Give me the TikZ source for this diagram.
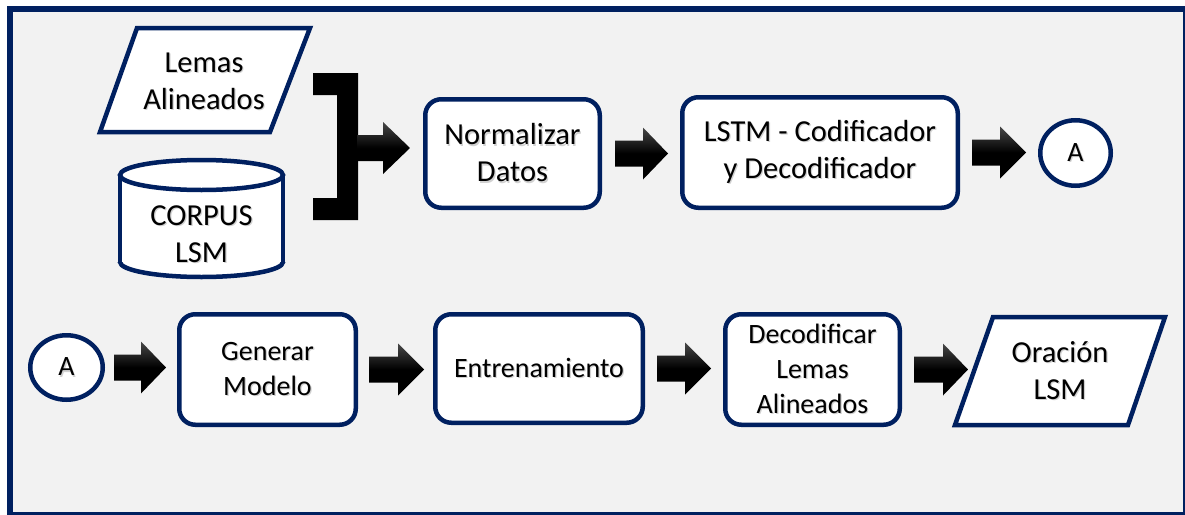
\documentclass[tikz,border=0pt]{standalone}
\usepackage{fontspec}
\setmainfont{Carlito}
\usetikzlibrary{calc,shapes.geometric}

\definecolor{navy}{HTML}{002060}
\definecolor{panel}{HTML}{F2F2F2}

% text with a soft drop shadow
\newcommand\shd[1]{\leavevmode\rlap{\kern1.2pt\raisebox{-1.4pt}{\textcolor{black!18}{#1}}}#1}

% shaded block arrow: #1 start, #2 tip, #3 head length
\newcommand\blockarrow[3]{%
  \shade[arrowfill] let \p1=(#1), \p2=(#2) in
    (\x1,\y1+13pt) -- (\x2-#3pt,\y1+13pt) -- (\x2-#3pt,\y1+26pt) -- (\x2,\y1)
    -- (\x2-#3pt,\y1-26pt) -- (\x2-#3pt,\y1-13pt) -- (\x1,\y1-13pt) -- cycle;}

\tikzset{
  outline/.style={draw=navy, line width=4.5pt, fill=white},
  procbox/.style={outline, rounded corners=16pt, align=center, inner sep=0pt},
  toprow/.style={font=\fontsize{30.5}{37}\selectfont},
  botrow/.style={font=\fontsize{28}{35}\selectfont},
  connector/.style={outline, ellipse, inner sep=0pt, font=\fontsize{28}{34}\selectfont},
  label/.style={align=center, inner sep=0pt, font=\fontsize{30.5}{37}\selectfont},
  arrowfill/.style={top color=black!72, bottom color=black, middle color=black, draw=none},
}

\begin{document}
\begin{tikzpicture}[x=1pt, y=-1pt]
  \useasboundingbox (0,0) rectangle (1185,514);
  \clip (0,0) rectangle (1185,514);

  % panel and frame
  \fill[white] (0,0) rectangle (1185,514);
  \draw[navy, line width=6pt, fill=panel] (10,9) rectangle (1186,515);

  % input: aligned lemmas (data parallelogram)
  \coordinate (lemA) at (137,28);
  \coordinate (lemB) at (310,28);
  \coordinate (lemC) at (270,132);
  \coordinate (lemD) at (100,132);
  \draw[outline, line join=miter] (lemA) -- (lemB) -- (lemC) -- (lemD) -- cycle;
  \node[label] (lemas) at (204,82) {\shd{Lemas}\\\shd{Alineados}};

  % input: corpus (database cylinder)
  \fill[white] (120,175) rectangle (283,262);
  \fill[white] (201.5,262) ellipse [x radius=81.5, y radius=15];
  \begin{scope}
    \clip (100,262) rectangle (300,290);
    \draw[navy, line width=4.5pt] (201.5,262) ellipse [x radius=81.5, y radius=15];
  \end{scope}
  \draw[navy, line width=4.5pt] (120,175) -- (120,262) (283,175) -- (283,262);
  \draw[outline] (201.5,175) ellipse [x radius=81.5, y radius=15];
  \node[label] (corpus) at (201.5,235) {\shd{CORPUS}\\\shd{LSM}};

  % bracket joining both inputs
  \fill[black] (313,73) -- (358,73) -- (358,220) -- (313,220) -- (313,198)
    -- (337,198) -- (337,95) -- (313,95) -- cycle;
  \coordinate (join) at (357,148);

  % first row of steps
  \node[procbox, toprow, minimum width=174.5pt, minimum height=108.5pt]
    (norm) at (512.5,153.5) {\shd{Normalizar}\\\shd{Datos}};
  \node[procbox, toprow, minimum width=275.5pt, minimum height=110.5pt]
    (lstm) at (820,152.5) {\shd{LSTM - Codificador}\\\shd{y Decodificador}};
  \node[connector, minimum width=70.5pt, minimum height=65.5pt]
    (aout) at (1075.5,153) {\shd{A}};

  % second row of steps
  \node[connector, minimum width=72.5pt, minimum height=64.5pt]
    (ain) at (66.5,367.5) {\shd{A}};
  \node[procbox, botrow, minimum width=176.5pt, minimum height=110.5pt]
    (gen) at (267.5,369.5) {\shd{Generar}\\\shd{Modelo}};
  \node[procbox, botrow, minimum width=207.5pt, minimum height=108.5pt]
    (ent) at (539,368.5) {\shd{Entrenamiento}};
  \node[procbox, botrow, minimum width=174.5pt, minimum height=110.5pt]
    (dec) at (812.5,369.5) {\shd{Decodificar}\\\shd{Lemas}\\\shd{Alineados}};

  % output: sentence (data parallelogram)
  \coordinate (orA) at (993,317);
  \coordinate (orB) at (1165,317);
  \coordinate (orC) at (1128,425);
  \coordinate (orD) at (955,425);
  \draw[outline, line join=miter] (orA) -- (orB) -- (orC) -- (orD) -- cycle;
  \node[label] (oracion) at (1060,371) {\shd{Oración}\\\shd{LSM}};
  \coordinate (orin) at (968,369.5);

  % block arrows
  \blockarrow{join}{[xshift=-13pt]norm.west}{27}
  \blockarrow{[xshift=13pt]norm.east}{[xshift=-12pt]lstm.west}{25}
  \blockarrow{[xshift=12pt]lstm.east}{[xshift=-12pt]aout.west}{26}
  \blockarrow{[xshift=9pt]ain.east}{[xshift=-11pt]gen.west}{25}
  \blockarrow{[xshift=11pt]gen.east}{[xshift=-9pt]ent.west}{26}
  \blockarrow{[xshift=12pt]ent.east}{[xshift=-12pt]dec.west}{26}
  \blockarrow{[xshift=12pt]dec.east}{orin}{25}
\end{tikzpicture}
\end{document}
